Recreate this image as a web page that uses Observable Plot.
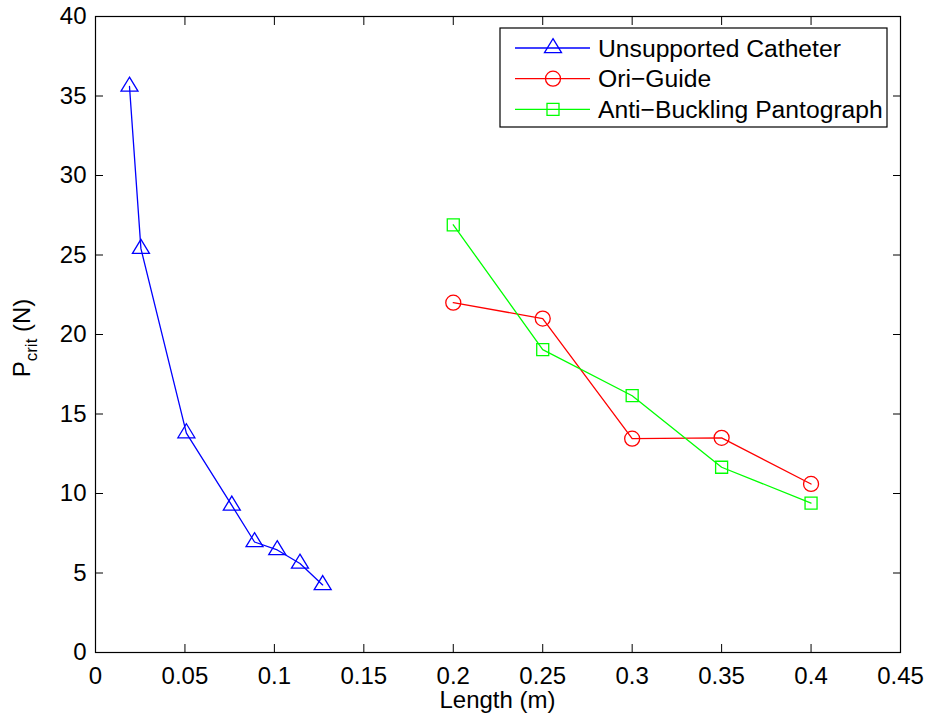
<!DOCTYPE html>
<html><head><meta charset="utf-8">
<script src="https://cdn.jsdelivr.net/npm/d3@7"></script>
<script src="https://cdn.jsdelivr.net/npm/@observablehq/plot@0.6"></script>
<style>
body{margin:0;background:#fff}
#chart{width:927px;height:719px}
</style>
</head><body><div id="chart"></div>
<script>
// ---- data ----
const seriesNames = ["Unsupported Catheter", "Ori\u2212Guide", "Anti\u2212Buckling Pantograph"];
const seriesColors = ["#0000ff", "#ff0000", "#00ff00"];
const catheterLength = [0.019, 0.0254, 0.0508, 0.0762, 0.0889, 0.1016, 0.1143, 0.127];
const catheterPcrit = [35.6, 25.4, 13.8, 9.25, 6.95, 6.45, 5.6, 4.25];
const oriLength = [0.2, 0.25, 0.3, 0.35, 0.4];
const oriPcrit = [22.0, 21.0, 13.45, 13.5, 10.6];
const pantoLength = [0.2, 0.25, 0.3, 0.35, 0.4];
const pantoPcrit = [26.9, 19.05, 16.15, 11.65, 9.4];
const xTicks = [0, 0.05, 0.1, 0.15, 0.2, 0.25, 0.3, 0.35, 0.4, 0.45];
const yTicks = [0, 5, 10, 15, 20, 25, 30, 35, 40];
const xLabel = "Length (m)";

// ---- marker shapes (MATLAB-like) ----
const triangleSym = {draw(ctx, size) { const s = Math.sqrt(size / Math.PI);
  ctx.moveTo(0, -9.3 * s); ctx.lineTo(8.5 * s, 4.7 * s); ctx.lineTo(-8.5 * s, 4.7 * s); ctx.closePath(); }};
const circleSym = {draw(ctx, size) { const s = Math.sqrt(size / Math.PI);
  ctx.moveTo(7.5 * s, 0); ctx.arc(0, 0, 7.5 * s, 0, 2 * Math.PI); ctx.closePath(); }};
const squareSym = {draw(ctx, size) { const s = Math.sqrt(size / Math.PI);
  ctx.rect(-6 * s, -6 * s, 12 * s, 12 * s); }};
const seriesSymbols = [triangleSym, circleSym, squareSym];

const seriesData = [
  [catheterLength, catheterPcrit],
  [oriLength, oriPcrit],
  [pantoLength, pantoPcrit]
].map(([xs, ys], k) => xs.map((x, i) => ({series: seriesNames[k], x, y: ys[i]})));

const fmt = d => String(+d.toFixed(2));

const marks = [];
seriesData.forEach((rows, k) => {
  marks.push(Plot.line(rows, {x: "x", y: "y", stroke: seriesColors[k], strokeWidth: 1.3}));
  marks.push(Plot.dot(rows, {x: "x", y: "y", r: 1, symbol: seriesSymbols[k], stroke: seriesColors[k], strokeWidth: 1.3, fill: "none"}));
});

const plot = Plot.plot({
  width: 927, height: 719,
  marginLeft: 95, marginRight: 27, marginTop: 16, marginBottom: 67,
  style: {fontFamily: "'Liberation Sans', Arial, sans-serif", fontSize: "24px", color: "black", background: "white"},
  x: {domain: [0, 0.45]},
  y: {domain: [0, 40]},
  marks: [
    Plot.axisX(xTicks, {anchor: "bottom", tickSize: -8, tickPadding: 22, tickFormat: fmt, label: null, stroke: "black"}),
    Plot.axisX(xTicks, {anchor: "top", tickSize: -8, tickFormat: () => "", label: null, stroke: "black"}),
    Plot.axisY(yTicks, {anchor: "left", tickSize: -8, tickPadding: 17, tickFormat: fmt, label: null, stroke: "black"}),
    Plot.axisY(yTicks, {anchor: "right", tickSize: -8, tickFormat: () => "", label: null, stroke: "black"}),
    ...marks,
    Plot.frame({stroke: "black", strokeWidth: 1.2})
  ]
});
document.getElementById("chart").appendChild(plot);

const svg = d3.select(plot);
// axis labels
svg.append("text").attr("x", 497.5).attr("y", 708).attr("text-anchor", "middle")
  .attr("fill", "black").text(xLabel);
const yl = svg.append("text").attr("transform", "translate(30,338) rotate(-90)")
  .attr("text-anchor", "middle").attr("fill", "black");
yl.append("tspan").text("P");
yl.append("tspan").attr("dy", 7).attr("font-size", 17).text("crit");
yl.append("tspan").attr("dy", -7).text(" (N)");

// legend
const lg = svg.append("g").attr("text-anchor", "start").attr("font-size", 24.7);
lg.append("rect").attr("x", 500).attr("y", 28).attr("width", 387).attr("height", 99)
  .attr("fill", "white").attr("stroke", "black").attr("stroke-width", 1.2);
seriesNames.forEach((name, k) => {
  const cy = 48 + k * 30.7;
  lg.append("line").attr("x1", 515).attr("x2", 590).attr("y1", cy).attr("y2", cy)
    .attr("stroke", seriesColors[k]).attr("stroke-width", 1.3);
  const p = d3.path();
  seriesSymbols[k].draw(p, Math.PI);
  lg.append("path").attr("d", p.toString()).attr("transform", `translate(553,${cy})`)
    .attr("fill", "none").attr("stroke", seriesColors[k]).attr("stroke-width", 1.3);
  lg.append("text").attr("x", 598).attr("y", cy).attr("dy", "0.35em")
    .attr("text-anchor", "start").attr("fill", "black").text(name);
});
</script>
</body></html>
